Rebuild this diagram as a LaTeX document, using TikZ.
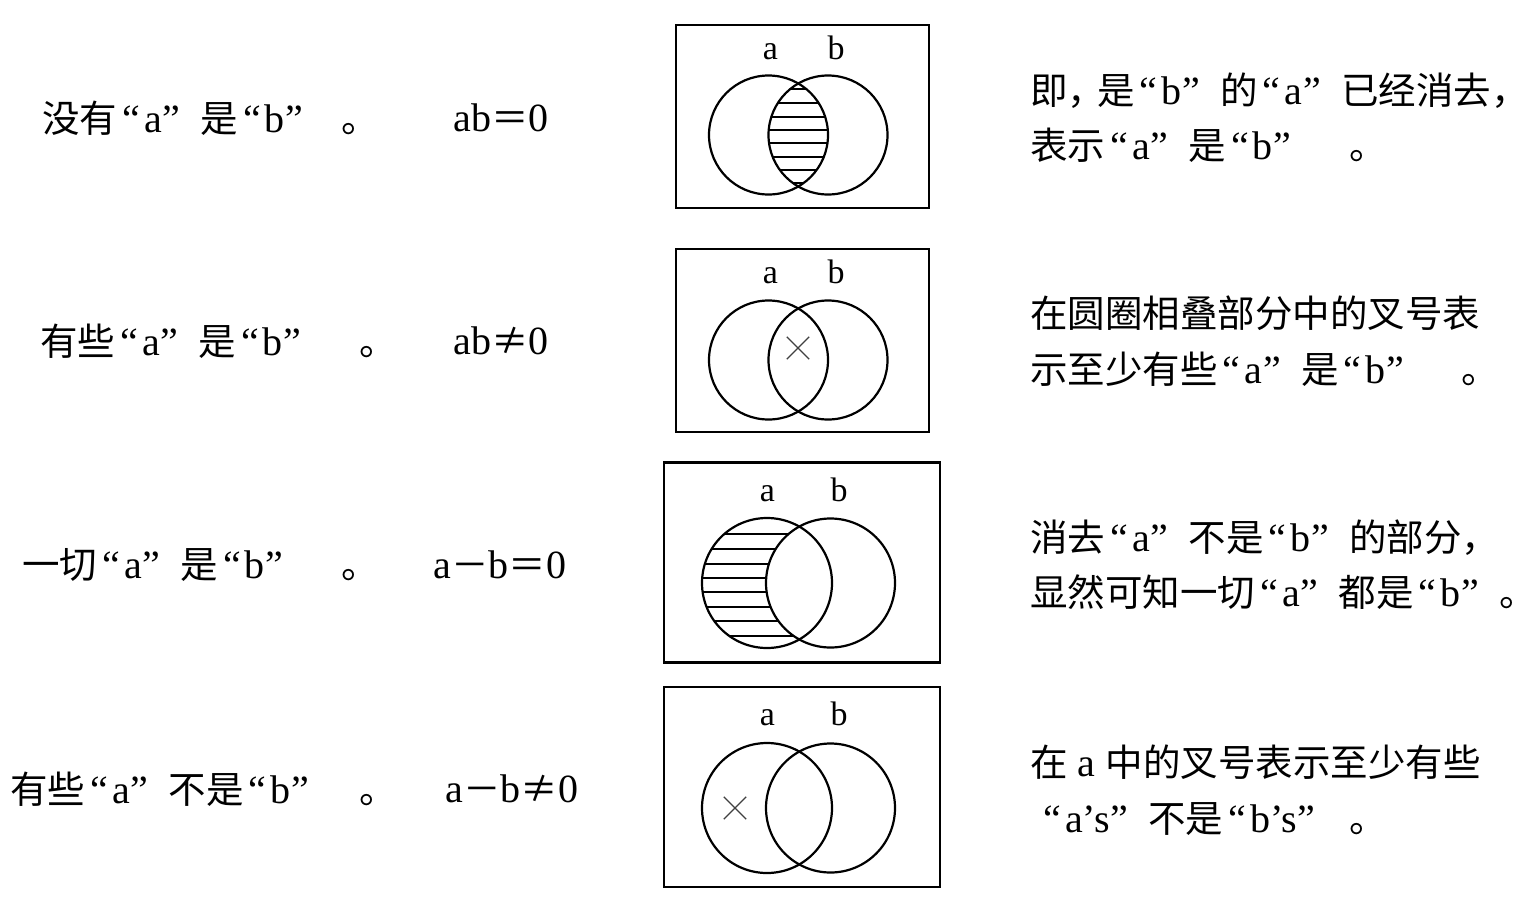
\documentclass[tikz,border=0pt]{standalone}
\usepackage{fontspec}
\setmainfont{Liberation Serif}
\newfontfamily\cjk{Noto Sans CJK SC}
\usetikzlibrary{shapes.misc}
\newcommand\zh[1]{{\cjk\fontsize{18.75pt}{27.75pt}\selectfont #1}}
\newcommand\qt[1]{\kern2.5pt“\kern2pt#1\kern0.5pt”\kern10pt}
\tikzset{
  frame/.style={draw, line width=1.25pt, inner sep=0pt},
  ring/.style={draw, circle, line width=1.1pt, inner sep=0pt},
  hatch/.style={line width=1.1pt},
  txt/.style={anchor=west, inner sep=0pt, align=left, font=\fontsize{20pt}{27.75pt}\selectfont},
  lbl/.style={anchor=base, inner sep=0pt, font=\fontsize{17pt}{20pt}\selectfont},
  xmark/.style={cross out, draw=black!75, line width=0.65pt, minimum size=10.5pt, inner sep=0pt}
}
\begin{document}
\begin{tikzpicture}[x=0.5pt,y=-0.5pt]
\useasboundingbox (0,0) rectangle (1536,900);
\fill[white] (0,0) rectangle (1536,900);

% ---------- row 1 ----------
\node[txt] (l1) at (42,118) {\zh{没有}\qt{a}\zh{是}\qt{b}\kern9pt\zh{。}};
\node[txt] (m1) at (453,118) {ab\zh{＝}0};
\node[frame, minimum width=126.5pt, minimum height=91.5pt] (box1) at (802.5,116.5) {};
\coordinate (ca1) at (768.5,135);
\coordinate (cb1) at (828,135);
\begin{scope}
  \clip (ca1) circle[radius=29.75pt];
  \clip (cb1) circle[radius=29.75pt];
  \foreach \d in {-46,-32,-18,-5,8,22,35,48}
    \draw[hatch] (700,135+\d) -- (900,135+\d);
\end{scope}
\node[ring, minimum size=59.5pt] (a1) at (ca1) {};
\node[ring, minimum size=59.5pt] (b1) at (cb1) {};
\node[lbl] (la1) at (770.5,59.5) {a};
\node[lbl] (lb1) at (836,59.5) {b};
\node[txt] (r1) at (1030,117.5) {\zh{即，}\kern-4pt\zh{是}\qt{b}\zh{的}\qt{a}\zh{已经消去，}\\\zh{表示}\qt{a}\zh{是}\qt{b}\zh{　。}};

% ---------- row 2 ----------
\node[txt] (l2) at (40,341) {\zh{有些}\qt{a}\zh{是}\qt{b}\zh{　。}};
\node[txt] (m2) at (453,341) {ab\zh{≠}0};
\node[frame, minimum width=126.5pt, minimum height=91.5pt] (box2) at (802.5,340.5) {};
\node[ring, minimum size=59.5pt] (a2) at (768.5,360) {};
\node[ring, minimum size=59.5pt] (b2) at (828,360) {};
\node[xmark] (x2) at (798,348) {};
\node[lbl] (la2) at (770.5,283.5) {a};
\node[lbl] (lb2) at (836,283.5) {b};
\node[txt] (r2) at (1030,341) {\zh{在圆圈相叠部分中的叉号表}\\\zh{示至少有些}\qt{a}\zh{是}\qt{b}\zh{　。}};

% ---------- row 3 ----------
\node[txt] (l3) at (22,565) {\zh{一切}\qt{a}\zh{是}\qt{b}\zh{　。}};
\node[txt] (m3) at (433,565) {a\zh{－}b\zh{＝}0};
\node[frame, minimum width=138pt, minimum height=100pt] (box3) at (802,562.5) {};
\coordinate (ca3) at (767,583);
\coordinate (cb3) at (830.5,583);
\begin{scope}
  \clip (ca3) circle[radius=32.5pt];
  \foreach \d in {-49,-34,-19,-5,9,24,38,53}
    \draw[hatch] (690,583+\d) -- (900,583+\d);
  \fill[white] (cb3) circle[radius=32.25pt];
\end{scope}
\node[ring, minimum size=65pt] (a3) at (ca3) {};
\node[ring, minimum size=64.5pt] (b3) at (cb3) {};
\node[lbl] (la3) at (767.5,501.5) {a};
\node[lbl] (lb3) at (839,501.5) {b};
\node[txt] (r3) at (1030,564.5) {\zh{消去}\qt{a}\zh{不是}\qt{b}\zh{的部分，}\\\zh{显然可知一切}\qt{a}\zh{都是}\qt{b}\zh{。}};

% ---------- row 4 ----------
\node[txt] (l4) at (10,789) {\zh{有些}\qt{a}\zh{不是}\qt{b}\kern15pt\zh{。}};
\node[txt] (m4) at (445,789) {a\zh{－}b\zh{≠}0};
\node[frame, minimum width=138pt, minimum height=100pt] (box4) at (802,787) {};
\node[ring, minimum size=65pt] (a4) at (767,808) {};
\node[ring, minimum size=64.5pt] (b4) at (830.5,808) {};
\node[xmark] (x4) at (735,808) {};
\node[lbl] (la4) at (767.5,725) {a};
\node[lbl] (lb4) at (839,725) {b};
\node[txt] (r4) at (1030,790) {\zh{在} a \zh{中的叉号表示至少有些}\\\kern4pt\qt{a’s}\zh{不是}\qt{b’s}\kern7pt\zh{。}};
\end{tikzpicture}
\end{document}
